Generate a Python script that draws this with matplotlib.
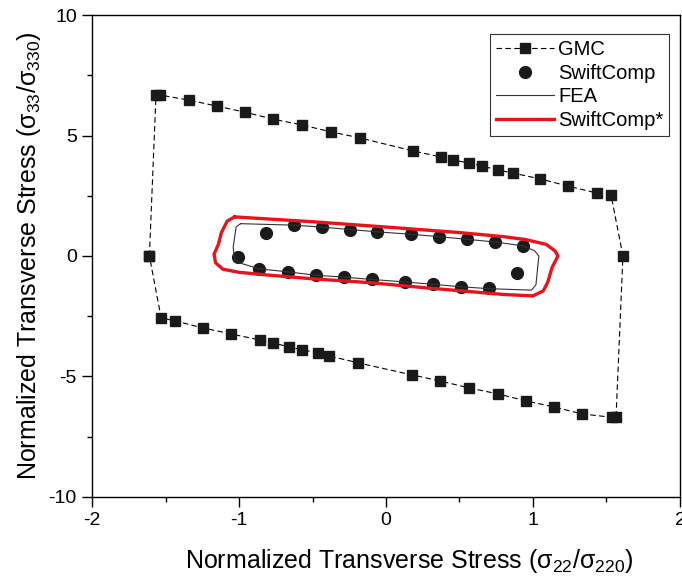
import numpy as np
import matplotlib
matplotlib.use("Agg")
import matplotlib.pyplot as plt
from matplotlib.ticker import MultipleLocator

plt.rcParams['font.family'] = ['Liberation Sans', 'DejaVu Sans']
plt.rcParams['mathtext.fontset'] = 'custom'
plt.rcParams['mathtext.rm'] = 'Liberation Sans'
plt.rcParams['mathtext.default'] = 'regular'
plt.rcParams['axes.unicode_minus'] = False

# GMC failure envelope (closed loop)
gmc_x = [-1.61, -1.565, -1.537, -1.34, -1.15, -0.959, -0.769, -0.571, -0.374, -0.177,
         0.184, 0.374, 0.456, 0.565, 0.653, 0.762, 0.864, 1.048, 1.238, 1.435, 1.531,
         1.612, 1.565, 1.537, 1.333, 1.143, 0.952, 0.762, 0.565, 0.367, 0.177,
         -0.19, -0.388, -0.463, -0.571, -0.660, -0.769, -0.857, -1.054, -1.245, -1.435,
         -1.53, -1.61]
gmc_y = [0.0, 6.68, 6.68, 6.47, 6.22, 5.97, 5.68, 5.44, 5.15, 4.90,
         4.36, 4.11, 3.98, 3.86, 3.73, 3.57, 3.44, 3.20, 2.90, 2.61, 2.53,
         0.0, -6.70, -6.70, -6.56, -6.27, -6.02, -5.73, -5.48, -5.19, -4.94,
         -4.44, -4.15, -4.02, -3.90, -3.78, -3.61, -3.49, -3.24, -2.99, -2.70,
         -2.57, 0.0]

# SwiftComp points
sc_x = [-0.818, -0.626, -0.435, -0.245, -0.059, 0.168, 0.358, 0.549, 0.739, 0.930,
        -1.009, -0.862, -0.669, -0.478, -0.288, -0.093, 0.127, 0.318, 0.508, 0.699, 0.889]
sc_y = [0.97, 1.27, 1.19, 1.09, 0.99, 0.90, 0.80, 0.69, 0.58, 0.41,
        -0.03, -0.53, -0.65, -0.79, -0.87, -0.97, -1.07, -1.17, -1.27, -1.34, -0.72]

# FEA envelope
fea_x = [-0.99, -0.64, -0.44, -0.25, -0.06, 0.17, 0.36, 0.55, 0.74, 0.93, 1.01, 1.04,
         1.03, 1.02, 0.99, 0.70, 0.51, 0.32, 0.13, -0.09, -0.29, -0.48, -0.67, -0.86,
         -0.99, -1.03, -1.04, -1.02, -0.99]
fea_y = [1.34, 1.28, 1.20, 1.10, 1.00, 0.90, 0.80, 0.69, 0.58, 0.42, 0.22, 0.0,
         -0.6, -1.20, -1.42, -1.36, -1.28, -1.18, -1.08, -0.98, -0.88, -0.80, -0.66, -0.54,
         -0.30, -0.14, 0.35, 1.20, 1.34]

# SwiftComp* envelope
scs_x = [-1.03, -0.87, -0.50, 0.0, 0.50, 0.80, 0.95, 1.09, 1.15, 1.17, 1.13, 1.10, 1.07,
         1.00, 0.80, 0.30, -0.11, -0.50, -0.81, -1.00, -1.11, -1.16, -1.17, -1.14, -1.12,
         -1.08, -1.03]
scs_y = [1.62, 1.56, 1.42, 1.20, 0.97, 0.80, 0.68, 0.48, 0.21, 0.0, -0.48, -1.10, -1.45,
         -1.66, -1.60, -1.34, -1.11, -0.95, -0.79, -0.68, -0.55, -0.28, 0.07, 0.49, 0.97,
         1.45, 1.62]

fig = plt.figure(figsize=(6.82, 5.81), dpi=100)
ax = fig.add_axes([0.135, 0.145, 0.862, 0.829])

ax.plot(gmc_x, gmc_y, color='black', linestyle=(0, (5, 3)), linewidth=0.8,
        marker='s', markersize=7, markerfacecolor='#1a1a1a', markeredgecolor='#1a1a1a',
        label='GMC')
ax.plot(sc_x, sc_y, linestyle='none', marker='o', markersize=8.5, color='#1a1a1a',
        label='SwiftComp')
ax.plot(fea_x, fea_y, color='#333333', linewidth=0.8, label='FEA')
ax.plot(scs_x, scs_y, color='#e8141c', linewidth=2.4, label='SwiftComp*')

ax.set_xlim(-2, 2)
ax.set_ylim(-10, 10)
ax.xaxis.set_major_locator(MultipleLocator(1))
ax.xaxis.set_minor_locator(MultipleLocator(0.5))
ax.yaxis.set_major_locator(MultipleLocator(5))
ax.yaxis.set_minor_locator(MultipleLocator(2.5))
ax.tick_params(which='major', direction='out', length=7, width=1, labelsize=14, pad=4)
ax.tick_params(which='minor', direction='out', length=3.5, width=1)
for s in ax.spines.values():
    s.set_linewidth(1.0)

ax.set_xlabel('Normalized Transverse Stress (σ$_{22}$/σ$_{220}$)', fontsize=18)
ax.xaxis.set_label_coords(0.54, -0.105)
ax.set_ylabel('Normalized Transverse Stress (σ$_{33}$/σ$_{330}$)', fontsize=18, labelpad=4)

leg = ax.legend(loc='upper right', bbox_to_anchor=(0.982, 0.96), fontsize=14.5,
                frameon=True, fancybox=False, handlelength=2.9, handletextpad=0.2,
                borderpad=0.3, labelspacing=0.22, borderaxespad=0)
leg.get_frame().set_edgecolor('black')
leg.get_frame().set_linewidth(0.8)

fig.savefig('out.png', dpi=100)
